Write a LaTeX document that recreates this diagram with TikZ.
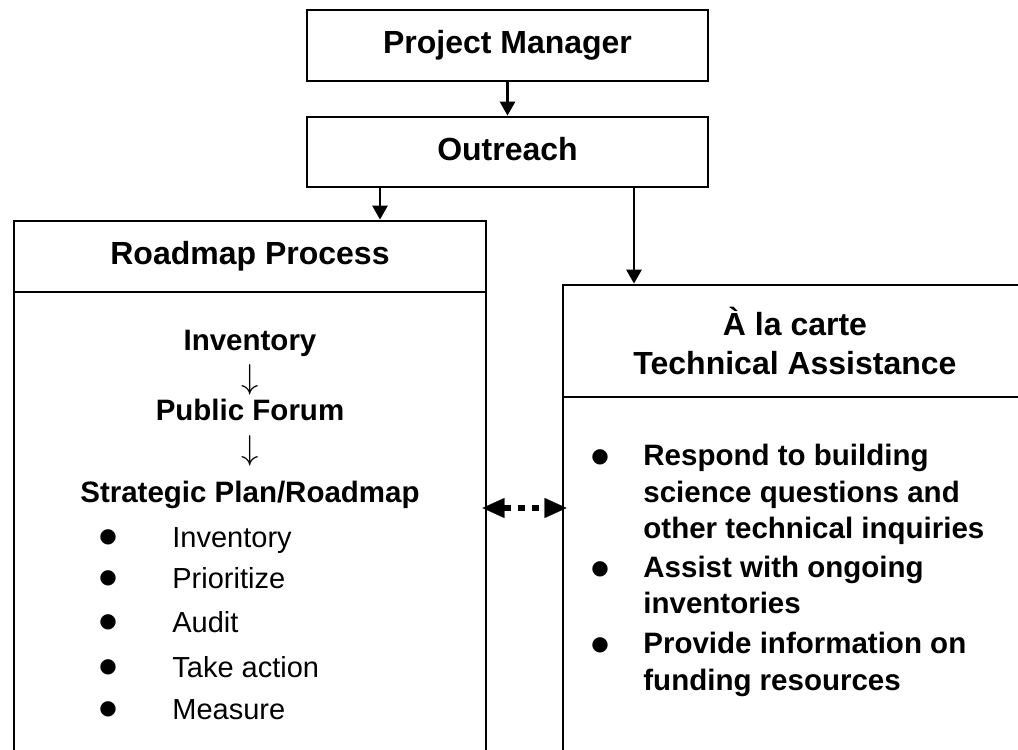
\documentclass[tikz,border=0pt]{standalone}
\usepackage{fontspec}
\setmainfont{Liberation Sans}
\newfontfamily\dejavu{DejaVu Sans}
\usetikzlibrary{arrows.meta,calc}
\begin{document}
\begin{tikzpicture}[x=0.5pt,y=-0.5pt,
 box/.style={draw,line width=1.4pt,rectangle,inner sep=0pt,align=center},
 hdr/.style={font=\fontsize{16}{19.5}\selectfont\bfseries},
 capc/.style={text height=11.7pt,text depth=3.4pt},
 bb/.style={font=\fontsize{14.75}{18}\selectfont\bfseries,inner sep=0pt},
 rg/.style={font=\fontsize{14.5}{18}\selectfont,inner sep=0pt},
 bul/.style={font=\dejavu\fontsize{10}{10}\selectfont,inner sep=0pt,anchor=base},
 dn/.style={font=\fontsize{18}{18}\selectfont,inner sep=0pt},
 arr/.style={line width=1.4pt,-{Triangle[length=7pt,width=7.5pt]}},
 dbl/.style={line width=3pt,dash pattern=on 3.5pt off 3.5pt,
   {Triangle[length=11pt,width=10pt,line width=0.1pt]}-{Triangle[length=11pt,width=10pt,line width=0.1pt]},
   shorten <=-2.5pt, shorten >=-2.5pt},
]
\useasboundingbox (0,0) rectangle (1018,750);
\fill[white] (0,0) rectangle (1018,750);
\clip (0,0) rectangle (1018,750);

% top boxes
\node[box,hdr,capc,minimum width=200.5pt,minimum height=35.5pt] (pm) at (507.5,45.5) {Project Manager};
\node[box,hdr,capc,minimum width=200.5pt,minimum height=35pt] (out) at (507.5,152) {Outreach};

% roadmap column
\node[box,hdr,capc,minimum width=236pt,minimum height=35.5pt] (rmhead) at (250,256.5) {Roadmap Process};
\node[box,minimum width=236pt,minimum height=304pt] (rmbody) at (250,596) {};

% a la carte column
\node[box,hdr,minimum width=232pt,minimum height=56pt] (tahead) at (795,341) {À la carte\\Technical Assistance};
\node[box,minimum width=232pt,minimum height=251.5pt] (tabody) at (795,648.5) {};

% connectors
\draw[arr] (pm.south) -- (out.north);
\draw[arr] ($(out.south)+(-127.5,0)$) -- ($(rmhead.north)+(130,0)$);
\draw[arr] ($(out.south)+(126.5,0)$) -- ($(tahead.north)+(-161,0)$);
\coordinate (mid) at (0,508);
\draw[dbl] (rmbody.east |- mid) -- (tabody.west |- mid);

% roadmap body text
\node[bb,anchor=base] (t1) at (250,350) {Inventory};
\node[dn] (a1) at (250,380) {$\downarrow$};
\node[bb,anchor=base] (t2) at (250,420) {Public Forum};
\node[dn] (a2) at (250,451) {$\downarrow$};
\node[bb,anchor=base] (t3) at (250,502) {Strategic Plan/Roadmap};

\node[bul] (lb1) at (108,542) {●};
\node[rg,anchor=base west] (l1) at (172,547) {Inventory};
\node[bul] (lb2) at (108,583) {●};
\node[rg,anchor=base west] (l2) at (172,588) {Prioritize};
\node[bul] (lb3) at (108,627) {●};
\node[rg,anchor=base west] (l3) at (172,632) {Audit};
\node[bul] (lb4) at (108,672) {●};
\node[rg,anchor=base west] (l4) at (172,677) {Take action};
\node[bul] (lb5) at (108,714) {●};
\node[rg,anchor=base west] (l5) at (172,719) {Measure};

% technical assistance body text
\node[bul] (rb1) at (600,462) {●};
\node[bb,anchor=base west] (r1) at (643,465) {Respond to building};
\node[bb,anchor=base west] (r2) at (643,502) {science questions and};
\node[bb,anchor=base west] (r3) at (643,538) {other technical inquiries};
\node[bul] (rb2) at (600,574) {●};
\node[bb,anchor=base west] (r4) at (643,577) {Assist with ongoing};
\node[bb,anchor=base west] (r5) at (643,613) {inventories};
\node[bul] (rb3) at (600,650) {●};
\node[bb,anchor=base west] (r6) at (643,653) {Provide information on};
\node[bb,anchor=base west] (r7) at (643,690) {funding resources};
\end{tikzpicture}
\end{document}
